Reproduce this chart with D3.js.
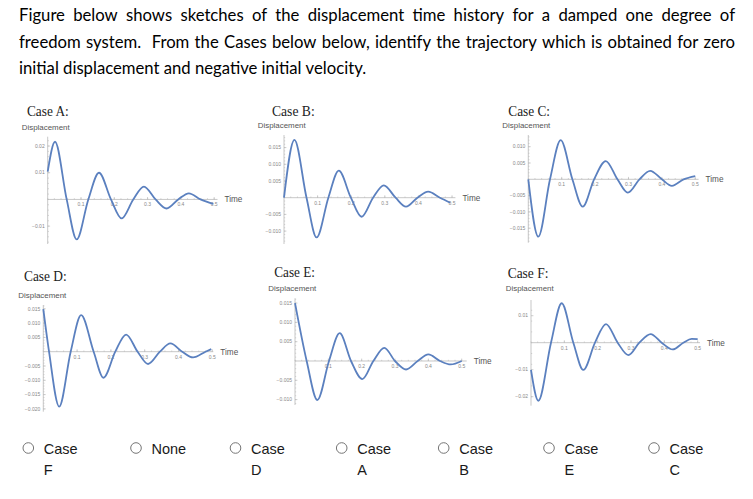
<!DOCTYPE html>
<html>
<head>
<meta charset="utf-8">
<script src="https://cdn.jsdelivr.net/npm/d3@7"></script>
<style>
  body { margin: 0; background: #fff; }
  svg { display: block; }
</style>
</head>
<body>
<svg class="svg"></svg>
<script>
const W = 753, H = 499;

// question text
const questionLines = [
    "Figure below shows sketches of the displacement time history for a damped one degree of",
    "freedom system.  From the Cases below below, identify the trajectory which is obtained for zero",
    "initial displacement and negative initial velocity."
];

// key points (time, displacement): start, peaks, zero crossings, end
const caseA_t = [0, 0.022, 0.057, 0.087, 0.122, 0.154, 0.19, 0.222, 0.257, 0.289, 0.324, 0.357, 0.392, 0.424, 0.459, 0.497];
const caseA_x = [0.0104, 0.0216, 0, -0.015, 0, 0.0100, 0, -0.0071, 0, 0.0048, 0, -0.0034, 0, 0.0023, 0, -0.0017];

const caseB_t = [0, 0.031, 0.067, 0.097, 0.132, 0.163, 0.199, 0.231, 0.265, 0.297, 0.332, 0.363, 0.397, 0.429, 0.464, 0.495];
const caseB_x = [0, 0.0173, 0, -0.0119, 0, 0.0081, 0, -0.0057, 0, 0.0037, 0, -0.0027, 0, 0.0018, 0, -0.0015];

const caseC_t = [0, 0.030, 0.065, 0.097, 0.132, 0.163, 0.197, 0.232, 0.267, 0.298, 0.333, 0.365, 0.40, 0.43, 0.465, 0.5];
const caseC_x = [0, -0.0176, 0, 0.0120, 0, -0.0084, 0, 0.0056, 0, -0.0041, 0, 0.0026, 0, -0.0020, 0, 0.0010];

const caseD_t = [0, 0.017, 0.047, 0.081, 0.112, 0.149, 0.178, 0.213, 0.245, 0.279, 0.31, 0.345, 0.376, 0.411, 0.443, 0.48, 0.497];
const caseD_x = [0.0149, 0, -0.0192, 0, 0.0128, 0, -0.0091, 0, 0.0060, 0, -0.0043, 0, 0.0029, 0, -0.0020, 0, 0.0009];

const caseE_t = [0, 0.035, 0.067, 0.102, 0.134, 0.168, 0.202, 0.235, 0.268, 0.30, 0.333, 0.368, 0.40, 0.435, 0.467, 0.5];
const caseE_x = [0.0150, 0, -0.0101, 0, 0.0072, 0, -0.0047, 0, 0.0034, 0, -0.0022, 0, 0.0017, 0, -0.0009, 0];

const caseF_t = [0, 0.022, 0.06, 0.092, 0.127, 0.157, 0.192, 0.225, 0.26, 0.292, 0.325, 0.359, 0.392, 0.425, 0.457, 0.482, 0.5];
const caseF_x = [-0.0101, -0.0215, 0, 0.0146, 0, -0.0101, 0, 0.0069, 0, -0.0046, 0, 0.0032, 0, -0.0025, 0, 0.0014, 0.0013];

// tick labels
const timeTicks = [0.1, 0.2, 0.3, 0.4, 0.5];
const ticksA = [0.02, 0.01, -0.01];
const ticksB = [0.015, 0.010, 0.005, -0.005, -0.010];
const ticksC = [0.010, 0.005, -0.005, -0.010, -0.015];
const ticksD = [0.015, 0.010, 0.005, -0.005, -0.010, -0.015, -0.020];
const ticksE = [0.015, 0.010, 0.005, -0.005, -0.010];
const ticksF = [0.01, -0.01, -0.02];

const caseNames = ["Case A:", "Case B:", "Case C:", "Case D:", "Case E:", "Case F:"];
const answerLabels = [["Case", "F"], ["None"], ["Case", "D"], ["Case", "A"], ["Case", "B"], ["Case", "E"], ["Case", "C"]];

// panel layout (pixels) and axis extents
const panels = [
    { t: caseA_t, x: caseA_x, ticks: ticksA, fmt: ".2f", title: [27, 116, 41.7], lab: [21.7, 130.3],
      px: [47.7, 217.5], py: [244, 136.7], tEnd: 0.51, yDom: [-0.0167, 0.0235] },
    { t: caseB_t, x: caseB_x, ticks: ticksB, fmt: ".3f", title: [272, 116, 42.7], lab: [257.7, 128.3],
      px: [284, 455.4], py: [244, 135], tEnd: 0.51, yDom: [-0.01386, 0.01877] },
    { t: caseC_t, x: caseC_x, ticks: ticksC, fmt: ".3f", title: [508.3, 116, 41.7], lab: [502.3, 128.3],
      px: [528.3, 698.6], py: [242.7, 135], tEnd: 0.51, yDom: [-0.01945, 0.01359] },
    { t: caseD_t, x: caseD_x, ticks: ticksD, fmt: ".3f", title: [24, 281, 42.7], lab: [18.3, 297.7],
      px: [43.3, 213.3], py: [411.7, 305], tEnd: 0.503, yDom: [-0.02098, 0.01633] },
    { t: caseE_t, x: caseE_x, ticks: ticksE, fmt: ".3f", title: [274.3, 276.7, 40.7], lab: [268.3, 291],
      px: [295, 466.7], py: [405, 298.3], tEnd: 0.515, yDom: [-0.0114, 0.01624] },
    { t: caseF_t, x: caseF_x, ticks: ticksF, fmt: ".2f", title: [507.7, 278.3, 40.7], lab: [505.7, 291],
      px: [531, 700], py: [405.7, 300], tEnd: 0.507, yDom: [-0.02333, 0.01581] }
];

const svg = d3.select(".svg")
    .attr("width", W)
    .attr("height", H)
    .attr("viewBox", `0 0 ${W} ${H}`);

// justified question text (an empty token from a double space widens that gap)
const lineY = [20.7, 48.3, 74.3];
questionLines.forEach((line, li) => {
    const tokens = line.split(" ");
    const words = tokens.filter(w => w.length);
    const g = svg.append("g");
    const nodes = words.map(w => g.append("text")
        .text(w)
        .attr("y", lineY[li])
        .attr("font-family", "Lato, 'Open Sans', sans-serif")
        .attr("font-size", 16.7)
        .attr("fill", "#000"));
    const widths = nodes.map(n => n.node().getComputedTextLength());
    const total = d3.sum(widths);
    const justify = li < 2;
    // gaps: one per token boundary, double spaces count twice
    const gapUnits = [];
    let units = 0;
    tokens.forEach((tk, i) => {
        if (i === 0) return;
        units += 1;
        if (tk.length) { gapUnits.push(units); units = 0; }
    });
    const unit = justify ? (735 - 19 - total) / d3.sum(gapUnits) : 4.2;
    let cx = 19;
    nodes.forEach((n, i) => {
        n.attr("x", cx);
        cx += widths[i] + (i < gapUnits.length ? gapUnits[i] * unit : 0);
    });
});

const curveColor = "#5b80bf";
const axisColor = "#b9b9b9";

panels.forEach((p, k) => {
    const xScale = d3.scaleLinear().domain([0, p.tEnd]).range(p.px);
    const yScale = d3.scaleLinear().domain(p.yDom).range(p.py);
    const g = svg.append("g");

    // title
    g.append("text")
        .text(caseNames[k])
        .attr("x", p.title[0])
        .attr("y", p.title[1])
        .attr("textLength", p.title[2])
        .attr("lengthAdjust", "spacingAndGlyphs")
        .attr("font-family", "'Liberation Serif', 'Times New Roman', serif")
        .attr("font-size", 15.5)
        .attr("fill", "#222");

    g.append("text")
        .text("Displacement")
        .attr("x", p.lab[0])
        .attr("y", p.lab[1])
        .attr("textLength", 48)
        .attr("lengthAdjust", "spacingAndGlyphs")
        .attr("font-family", "'Liberation Sans', Arial, sans-serif")
        .attr("font-size", 8)
        .attr("fill", "#555");

    // axes lines
    const y0 = yScale(0);
    g.append("line")
        .attr("x1", p.px[0]).attr("x2", p.px[1])
        .attr("y1", y0).attr("y2", y0)
        .attr("stroke", axisColor).attr("stroke-width", 0.8);
    g.append("line")
        .attr("x1", p.px[0]).attr("x2", p.px[0])
        .attr("y1", p.py[0]).attr("y2", p.py[1])
        .attr("stroke", axisColor).attr("stroke-width", 0.8);

    // minor ticks on time axis
    const minorT = d3.range(0, p.tEnd + 1e-9, 0.02);
    g.selectAll(".mt").data(minorT).enter().append("line")
        .attr("x1", d => xScale(d)).attr("x2", d => xScale(d))
        .attr("y1", y0 - 1.2).attr("y2", y0)
        .attr("stroke", axisColor).attr("stroke-width", 0.6);
    g.selectAll(".Mt").data(timeTicks).enter().append("line")
        .attr("x1", d => xScale(d)).attr("x2", d => xScale(d))
        .attr("y1", y0 - 2.4).attr("y2", y0)
        .attr("stroke", axisColor).attr("stroke-width", 0.7);
    g.selectAll(".tl").data(timeTicks).enter().append("text")
        .text(d => d3.format(".1f")(d))
        .attr("x", d => xScale(d))
        .attr("y", y0 + 7)
        .attr("text-anchor", "middle")
        .attr("font-family", "'Liberation Sans', Arial, sans-serif")
        .attr("font-size", 5)
        .attr("fill", "#888");

    // minor ticks on displacement axis
    const step = Math.abs(p.ticks[0] - p.ticks[1]) / 5;
    const minorY = d3.range(Math.ceil(p.yDom[0] / step) * step, p.yDom[1], step);
    g.selectAll(".my").data(minorY).enter().append("line")
        .attr("x1", p.px[0]).attr("x2", p.px[0] + 1.2)
        .attr("y1", d => yScale(d)).attr("y2", d => yScale(d))
        .attr("stroke", axisColor).attr("stroke-width", 0.6);
    g.selectAll(".My").data(p.ticks).enter().append("line")
        .attr("x1", p.px[0]).attr("x2", p.px[0] + 2.4)
        .attr("y1", d => yScale(d)).attr("y2", d => yScale(d))
        .attr("stroke", axisColor).attr("stroke-width", 0.7);
    g.selectAll(".yl").data(p.ticks).enter().append("text")
        .text(d => d3.format(p.fmt)(d))
        .attr("x", p.px[0] - 3)
        .attr("y", d => yScale(d) + 1.7)
        .attr("text-anchor", "end")
        .attr("font-family", "'Liberation Sans', Arial, sans-serif")
        .attr("font-size", 5)
        .attr("fill", "#888");

    g.append("text")
        .text("Time")
        .attr("x", p.px[1] + 7)
        .attr("y", y0 + 3)
        .attr("font-family", "'Liberation Sans', Arial, sans-serif")
        .attr("font-size", 8.2)
        .attr("fill", "#555");

    // trajectory
    const pts = p.t.map((t, i) => [t, p.x[i]]);
    const line = d3.line()
        .x(d => xScale(d[0]))
        .y(d => yScale(d[1]))
        .curve(d3.curveMonotoneX);
    g.append("path")
        .attr("d", line(pts))
        .attr("fill", "none")
        .attr("stroke", curveColor)
        .attr("stroke-width", 1.8)
        .attr("stroke-linejoin", "round");
});

// answer options
const radioX = [28.3, 136, 235.5, 341.7, 443.7, 549, 654];
const radios = svg.selectAll(".radio")
    .data(answerLabels)
    .enter()
    .append("g")
    .attr("transform", (d, i) => `translate(${radioX[i]},448)`);

radios.append("circle")
    .attr("r", 5.3)
    .attr("fill", "#fff")
    .attr("stroke", "#767676")
    .attr("stroke-width", 1);

radios.each(function (d) {
    const g = d3.select(this);
    d.forEach((s, j) => {
        g.append("text")
            .text(s)
            .attr("x", 15.5)
            .attr("y", 5.5 + j * 21.5)
            .attr("font-family", "'Liberation Sans', Arial, sans-serif")
            .attr("font-size", 14.5)
            .attr("fill", "#1a1a1a");
    });
});
</script>
</body>
</html>
